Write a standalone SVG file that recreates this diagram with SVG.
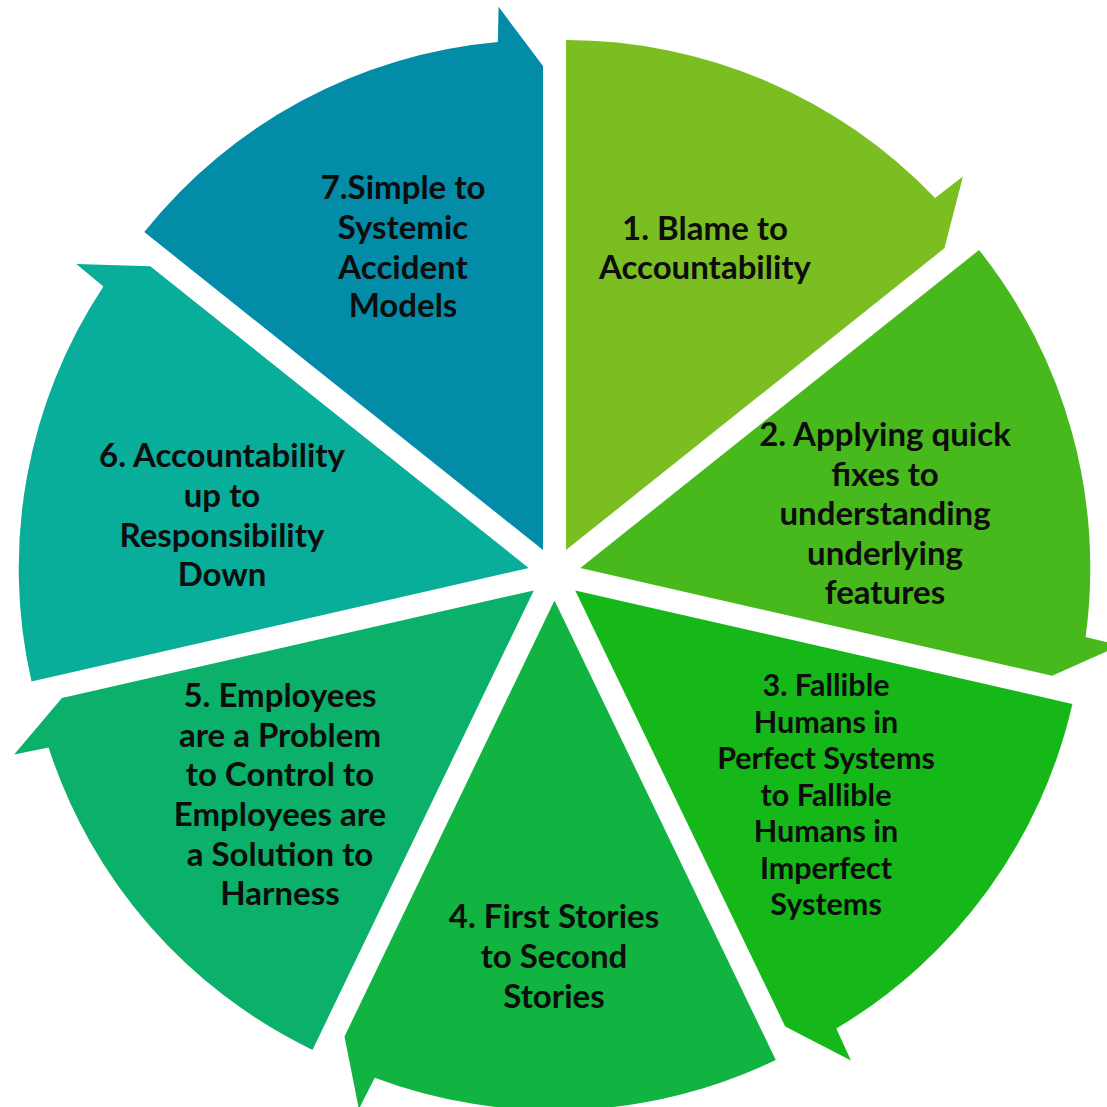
<svg xmlns="http://www.w3.org/2000/svg" xmlns:xlink="http://www.w3.org/1999/xlink" width="1107" height="1107" viewBox="0 0 1107 1107">
<defs>
<style>
.lbl{font-family:Lato,"Liberation Sans",sans-serif;font-weight:bold;font-size:33px;fill:#0d0d0d;text-anchor:middle}
.sm{font-size:30.5px}
</style>
<path id="wedge" d="M0,0 L0,-510 A510,510 0 0 1 369.02,-352.03 L396.97,-373.42 L378.41,-301.77 Z"/>
</defs>
<rect width="1107" height="1107" fill="#ffffff"/>
<g id="connectors"></g>
<g id="seg1">
<use xlink:href="#wedge" transform="translate(566.0,550.0)" fill="#7BBE21"/>
<text class="lbl" x="705" y="240">1. Blame to</text>
<text class="lbl" x="705" y="279">Accountability</text>
</g>
<g id="seg2">
<use xlink:href="#wedge" transform="translate(580.3,568.0) rotate(51.4286)" fill="#48B91C"/>
<text class="lbl" x="885" y="446">2. Applying quick</text>
<text class="lbl" x="885" y="486">fixes to</text>
<text class="lbl" x="885" y="525">understanding</text>
<text class="lbl" x="885" y="565">underlying</text>
<text class="lbl" x="885" y="604">features</text>
</g>
<g id="seg3">
<use xlink:href="#wedge" transform="translate(575.2,590.4) rotate(102.8571)" fill="#16B819"/>
<text class="lbl sm" x="826" y="696">3. Fallible</text>
<text class="lbl sm" x="826" y="732.5">Humans in</text>
<text class="lbl sm" x="826" y="769">Perfect Systems</text>
<text class="lbl sm" x="826" y="805.5">to Fallible</text>
<text class="lbl sm" x="826" y="842">Humans in</text>
<text class="lbl sm" x="826" y="878.5">Imperfect</text>
<text class="lbl sm" x="826" y="915">Systems</text>
</g>
<g id="seg4">
<use xlink:href="#wedge" transform="translate(554.5,600.4) rotate(154.2857)" fill="#11B440"/>
<text class="lbl" x="554" y="927.5">4. First Stories</text>
<text class="lbl" x="554" y="967.5">to Second</text>
<text class="lbl" x="554" y="1007.5">Stories</text>
</g>
<g id="seg5">
<use xlink:href="#wedge" transform="translate(533.8,590.4) rotate(205.7143)" fill="#0BB06B"/>
<text class="lbl" x="280" y="706.5">5. Employees</text>
<text class="lbl" x="280" y="746.5">are a Problem</text>
<text class="lbl" x="280" y="785.5">to Control to</text>
<text class="lbl" x="280" y="825.5">Employees are</text>
<text class="lbl" x="280" y="865.5">a Solution to</text>
<text class="lbl" x="280" y="904.5">Harness</text>
</g>
<g id="seg6">
<use xlink:href="#wedge" transform="translate(528.7,568.0) rotate(257.1429)" fill="#09AE9A"/>
<text class="lbl" x="222" y="466.5">6. Accountability</text>
<text class="lbl" x="222" y="506.5">up to</text>
<text class="lbl" x="222" y="546.5">Responsibility</text>
<text class="lbl" x="222" y="585.5">Down</text>
</g>
<g id="seg7">
<use xlink:href="#wedge" transform="translate(543.0,550.0) rotate(308.5714)" fill="#038CA8"/>
<text class="lbl" x="403" y="199">7.Simple to</text>
<text class="lbl" x="403" y="239">Systemic</text>
<text class="lbl" x="403" y="279">Accident</text>
<text class="lbl" x="403" y="317">Models</text>
</g>
</svg>
